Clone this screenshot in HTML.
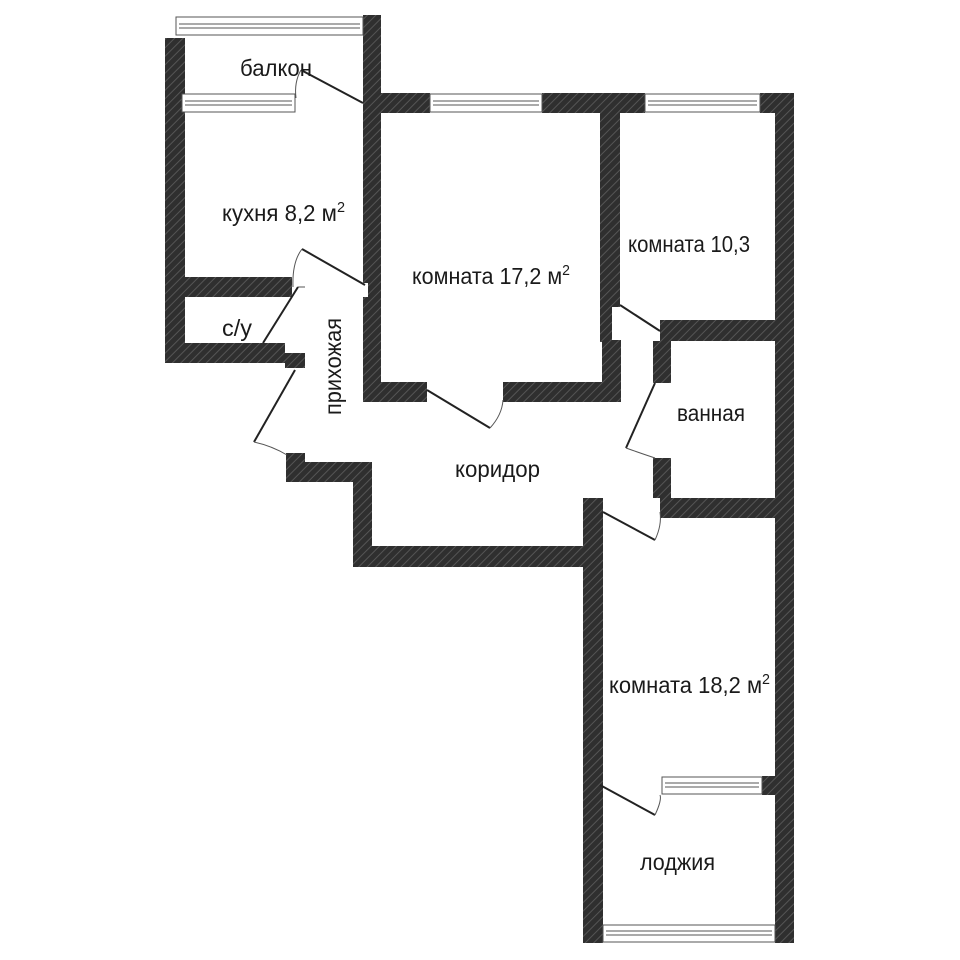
<!DOCTYPE html>
<html><head><meta charset="utf-8"><style>
html,body{margin:0;padding:0;background:#fff}
svg{display:block}
text{font-family:"Liberation Sans Narrow","Liberation Sans",sans-serif;fill:#1a1a1a}
</style></head><body>
<svg width="960" height="960" viewBox="0 0 960 960" xmlns="http://www.w3.org/2000/svg">
<defs>
<pattern id="h" width="6" height="6" patternUnits="userSpaceOnUse" patternTransform="rotate(45)">
<rect width="6" height="6" fill="#2f2f2f"/>
<rect width="1" height="6" fill="#555"/>
</pattern>
</defs>
<rect width="960" height="960" fill="#fff"/>
<g fill="url(#h)">
<rect x="363" y="15" width="18" height="387"/>
<rect x="165" y="38" width="20" height="325"/>
<rect x="185" y="277" width="107" height="20"/>
<rect x="165" y="343" width="120" height="20"/>
<rect x="285" y="353" width="20" height="15"/>
<rect x="381" y="93" width="49" height="20"/>
<rect x="542" y="93" width="103" height="20"/>
<rect x="760" y="93" width="34" height="20"/>
<rect x="600" y="93" width="20" height="214"/>
<rect x="600" y="307" width="12" height="35"/>
<rect x="602" y="340" width="19" height="62"/>
<rect x="363" y="382" width="64" height="20"/>
<rect x="503" y="382" width="118" height="20"/>
<rect x="775" y="93" width="19" height="850"/>
<rect x="660" y="320" width="115" height="21"/>
<rect x="653" y="341" width="18" height="42"/>
<rect x="653" y="458" width="18" height="40"/>
<rect x="660" y="498" width="115" height="20"/>
<rect x="286" y="453" width="19" height="29"/>
<rect x="286" y="462" width="86" height="20"/>
<rect x="353" y="462" width="19" height="105"/>
<rect x="353" y="546" width="250" height="21"/>
<rect x="583" y="498" width="20" height="445"/>
<rect x="762" y="776" width="15" height="19"/>
</g>
<rect x="603" y="775" width="3" height="20" fill="#fff"/>
<rect x="363" y="283" width="5" height="14" fill="#fff"/>
<g fill="#fff" stroke="#555" stroke-width="1">
<rect x="176" y="17" width="187" height="18"/>
<line x1="179" y1="24" x2="360" y2="24"/><line x1="179" y1="28" x2="360" y2="28"/>
<rect x="182" y="94" width="113" height="18"/>
<line x1="185" y1="101" x2="292" y2="101"/><line x1="185" y1="105" x2="292" y2="105"/>
<rect x="430" y="94" width="112" height="18"/>
<line x1="433" y1="101" x2="539" y2="101"/><line x1="433" y1="105" x2="539" y2="105"/>
<rect x="645" y="94" width="115" height="18"/>
<line x1="648" y1="101" x2="757" y2="101"/><line x1="648" y1="105" x2="757" y2="105"/>
<rect x="662" y="777" width="100" height="17"/>
<line x1="665" y1="783" x2="759" y2="783"/><line x1="665" y1="787" x2="759" y2="787"/>
<rect x="603" y="925" width="172" height="17"/>
<line x1="606" y1="931" x2="772" y2="931"/><line x1="606" y1="935" x2="772" y2="935"/>
</g>
<g fill="none" stroke="#222" stroke-width="2">
<line x1="301" y1="70" x2="363" y2="103"/>
<line x1="302" y1="249" x2="365" y2="285"/>
<line x1="298" y1="287" x2="263" y2="343"/>
<line x1="295" y1="370" x2="254" y2="442"/>
<line x1="427" y1="390" x2="490" y2="428"/>
<line x1="620" y1="305" x2="660" y2="331"/>
<line x1="655" y1="383" x2="626" y2="448"/>
<line x1="603" y1="512" x2="655" y2="540"/>
<line x1="600" y1="785" x2="655" y2="815"/>
</g>
<g fill="none" stroke="#555" stroke-width="1">
<path d="M301 70 Q294 82 296 98"/>
<path d="M302 249 Q292 262 293 287"/>
<path d="M298 287 L305 287"/>
<path d="M254 442 Q272 446 287 455"/>
<path d="M490 428 Q502 415 503 400"/>
<path d="M626 448 Q640 453 655 458"/>
<path d="M655 540 Q662 525 660 512"/>
<path d="M655 815 Q662 800 660 795"/>
</g>
<g font-size="23">
<text x="240" y="76" textLength="72" lengthAdjust="spacingAndGlyphs">балкон</text>
<text x="222" y="221" textLength="123" lengthAdjust="spacingAndGlyphs">кухня 8,2 м<tspan font-size="15" dy="-9">2</tspan></text>
<text x="412" y="284" textLength="158" lengthAdjust="spacingAndGlyphs">комната 17,2 м<tspan font-size="15" dy="-9">2</tspan></text>
<text x="628" y="252" textLength="122" lengthAdjust="spacingAndGlyphs">комната 10,3</text>
<text x="222" y="336" textLength="30" lengthAdjust="spacingAndGlyphs">с/у</text>
<text x="677" y="421" textLength="68" lengthAdjust="spacingAndGlyphs">ванная</text>
<text x="455" y="477" textLength="85" lengthAdjust="spacingAndGlyphs">коридор</text>
<text x="609" y="693" textLength="161" lengthAdjust="spacingAndGlyphs">комната 18,2 м<tspan font-size="15" dy="-9">2</tspan></text>
<text x="640" y="870" textLength="75" lengthAdjust="spacingAndGlyphs">лоджия</text>
<text transform="translate(341,415) rotate(-90)" textLength="97" lengthAdjust="spacingAndGlyphs">прихожая</text>
</g>
</svg>
</body></html>
